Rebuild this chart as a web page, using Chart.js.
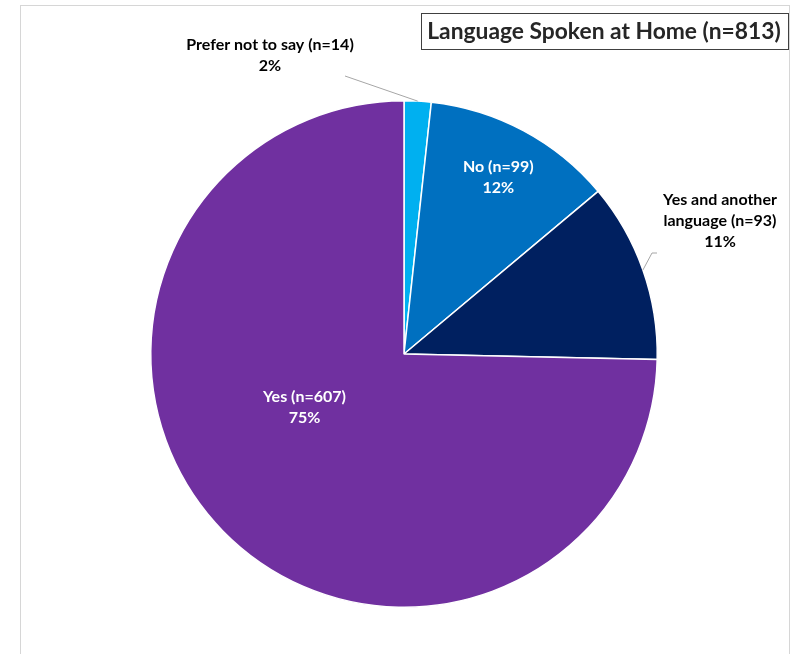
<!DOCTYPE html>
<html>
<head>
<meta charset="utf-8">
<script src="https://cdn.jsdelivr.net/npm/chart.js@4/dist/chart.umd.min.js"></script>
<style>
  html, body { margin: 0; padding: 0; background: #fff; }
  #wrap { position: relative; width: 794px; height: 654px; }
  #frame { position: absolute; left: 20px; top: 5px; width: 770px; height: 660px;
           border: 1.5px solid #d6d6d6; box-sizing: border-box; }
  canvas { position: absolute; left: 0; top: 0; }
</style>
</head>
<body>
<div id="wrap">
  <div id="frame"></div>
  <canvas id="chart" width="794" height="654"></canvas>
</div>
<script>
// Survey responses: language spoken at home
const categories = ['Prefer not to say', 'No', 'Yes and another language', 'Yes'];
const counts = [14, 99, 93, 607];
const percentLabels = ['2%', '12%', '11%', '75%'];
const sliceColors = ['#00B0F0', '#0070C0', '#002060', '#7030A0'];
const chartTitle = 'Language Spoken at Home (n=813)';

// Label text: "<category> (n=<count>)" then the percentage on its own line.
// wrapAfter: number of words kept on the first line when the name is wrapped.
function labelLines(i, wrapAfter) {
  const text = categories[i] + ' (n=' + counts[i] + ')';
  if (!wrapAfter) return [text, percentLabels[i]];
  const words = text.split(' ');
  return [words.slice(0, wrapAfter).join(' '), words.slice(wrapAfter).join(' '), percentLabels[i]];
}

// Where each label sits: inside the slice or outside with a leader line.
// angle: clockwise from 12 o'clock (null = slice bisector); r: fraction of radius.
const labelPlacement = [
  { mode: 'outside', wrap: 0, tx: 270, ty: 45, lineEnd: [345, 76] },
  { mode: 'inside', wrap: 0, angle: null, r: 0.79 },
  { mode: 'outside', wrap: 3, tx: 720, ty: 200, elbow: [652, 253], lineEnd: [657, 253] },
  { mode: 'inside', wrap: 0, angle: 242, r: 0.445 }
];

const FONT = 'Lato, "Open Sans", sans-serif';

const labelPlugin = {
  id: 'sliceLabels',
  afterDatasetsDraw(chart) {
    const ctx = chart.ctx;
    const arcs = chart.getDatasetMeta(0).data;
    ctx.save();
    ctx.textAlign = 'center';
    ctx.textBaseline = 'middle';
    arcs.forEach((arc, i) => {
      const p = labelPlacement[i];
      const lines = labelLines(i, p.wrap);
      const { x, y, startAngle, endAngle, outerRadius } = arc.getProps(['x', 'y', 'startAngle', 'endAngle', 'outerRadius'], true);
      const mid = (startAngle + endAngle) / 2;
      ctx.font = 'bold 16px ' + FONT;
      if (p.mode === 'inside') {
        const a = p.angle === null ? mid : (p.angle * Math.PI / 180 - Math.PI / 2);
        const cx = x + Math.cos(a) * outerRadius * p.r;
        const cy = y + Math.sin(a) * outerRadius * p.r;
        ctx.fillStyle = '#ffffff';
        lines.forEach((t, k) => ctx.fillText(t, cx, cy - (lines.length - 1) * 10.5 + k * 21));
      } else {
        // leader line from the slice edge at its bisector
        const ex = x + Math.cos(mid) * outerRadius;
        const ey = y + Math.sin(mid) * outerRadius;
        ctx.strokeStyle = '#a6a6a6';
        ctx.lineWidth = 1;
        ctx.beginPath();
        ctx.moveTo(ex, ey);
        if (p.elbow) ctx.lineTo(p.elbow[0], p.elbow[1]);
        ctx.lineTo(p.lineEnd[0], p.lineEnd[1]);
        ctx.stroke();
        ctx.fillStyle = '#000000';
        lines.forEach((t, k) => ctx.fillText(t, p.tx, p.ty + k * 21));
      }
    });
    ctx.restore();
  }
};

const titlePlugin = {
  id: 'boxedTitle',
  afterDraw(chart) {
    const ctx = chart.ctx;
    ctx.save();
    ctx.strokeStyle = '#404040';
    ctx.lineWidth = 1;
    ctx.strokeRect(421.5, 13.5, 367, 36);
    ctx.font = 'bold 22.8px ' + FONT;
    ctx.fillStyle = '#262626';
    ctx.textAlign = 'center';
    ctx.textBaseline = 'middle';
    ctx.fillText(chartTitle, 604, 32);
    ctx.restore();
  }
};

new Chart(document.getElementById('chart'), {
  type: 'pie',
  data: {
    labels: categories,
    datasets: [{
      data: counts,
      backgroundColor: sliceColors,
      borderColor: '#ffffff',
      borderWidth: 1.5
    }]
  },
  options: {
    responsive: false,
    animation: false,
    rotation: 0,
    layout: { padding: { left: 150, right: 136, top: 100, bottom: 46 } },
    plugins: {
      legend: { display: false },
      title: { display: false },
      tooltip: { enabled: false }
    }
  },
  plugins: [labelPlugin, titlePlugin]
});
</script>
</body>
</html>
